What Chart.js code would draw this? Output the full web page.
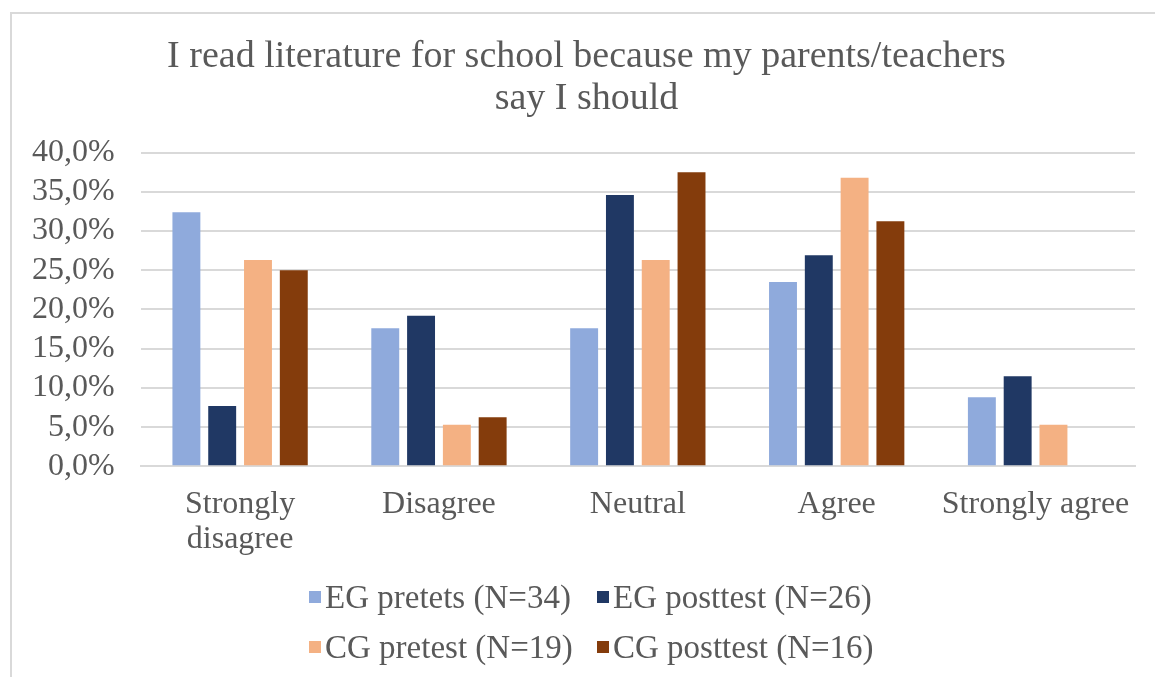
<!DOCTYPE html>
<html>
<head>
<meta charset="utf-8">
<script src="https://cdn.jsdelivr.net/npm/chart.js@4/dist/chart.umd.min.js"></script>
<style>
    body { margin: 0; background: #fff; }
    #frame {
        position: absolute; left: 10px; top: 12px; width: 1160px; height: 680px;
        border-left: 2px solid #d9d9d9; border-top: 2px solid #d9d9d9;
    }
    #wrap { position: absolute; left: 0; top: 0; width: 1155px; height: 580px; }
    #legend {
        position: absolute; left: 309px; top: 579px;
        font-family: 'Liberation Serif', 'Times New Roman', serif;
        font-size: 33px; color: #595959;
        display: grid; grid-template-columns: 288px 300px; row-gap: 14px;
    }
    .item { display: flex; align-items: center; height: 36px; white-space: nowrap; }
    .box { width: 12px; height: 12px; margin-right: 4px; }
</style>
</head>
<body>
<div id="frame"></div>
<div id="wrap"><canvas id="chart"></canvas></div>
<div id="legend"></div>
<script>
// Data (shares of respondents)
const categories = [["Strongly", "disagree"], "Disagree", "Neutral", "Agree", "Strongly agree"];
const egPretest = [0.324, 0.176, 0.176, 0.235, 0.088];
const egPosttest = [0.077, 0.192, 0.346, 0.269, 0.115];
const cgPretest = [0.263, 0.053, 0.263, 0.368, 0.053];
const cgPosttest = [0.25, 0.0625, 0.375, 0.3125, 0];
const seriesNames = ["EG pretets (N=34)", "EG posttest (N=26)", "CG pretest (N=19)", "CG posttest (N=16)"];
const colors = ["#8faadc", "#203864", "#f4b183", "#843c0c"];

const serif = "'Liberation Serif', 'Times New Roman', serif";
Chart.defaults.font.family = serif;
Chart.defaults.color = "#595959";

const values = [egPretest, egPosttest, cgPretest, cgPosttest];
const datasets = values.map((data, i) => ({
    label: seriesNames[i],
    data: data,
    backgroundColor: colors[i],
    barPercentage: 0.78,
    categoryPercentage: 0.72,
}));

// the original title sits a bit right of the canvas centre
const titleShift = {
    id: "titleShift",
    afterLayout(chart) {
        chart.titleBlock.left += 16;
        chart.titleBlock.right += 16;
    },
};

const ctx = document.getElementById("chart").getContext("2d");
new Chart(ctx, {
    type: "bar",
    data: { labels: categories, datasets: datasets },
    plugins: [titleShift],
    options: {
        responsive: true,
        maintainAspectRatio: false,
        animation: false,
        layout: { padding: { left: 6, right: 20, top: 0, bottom: 2 } },
        plugins: {
            legend: { display: false },
            tooltip: { enabled: false },
            title: {
                display: true,
                text: ["I read literature for school because my parents/teachers", "say I should"],
                font: { size: 38, weight: "normal", lineHeight: 1.1 },
                color: "#595959",
                padding: { top: 36, bottom: 33 },
            },
        },
        scales: {
            x: {
                grid: { display: false, drawTicks: false },
                border: { color: "#d9d9d9", width: 2 },
                ticks: { font: { size: 32, lineHeight: 1.12 }, padding: 20, maxRotation: 0, autoSkip: false },
            },
            y: {
                min: 0,
                max: 0.4,
                grid: { color: "#d9d9d9", lineWidth: 2, drawTicks: false },
                border: { display: false },
                ticks: {
                    stepSize: 0.05,
                    autoSkip: false,
                    padding: 26,
                    font: { size: 32 },
                    callback: (v) => (v * 100).toFixed(1).replace(".", ",") + "%",
                },
            },
        },
    },
});

// Legend in two rows, as in the original
const legend = document.getElementById("legend");
seriesNames.forEach((name, i) => {
    const item = document.createElement("div");
    item.className = "item";
    item.innerHTML = `<span class="box" style="background:${colors[i]}"></span>${name}`;
    legend.appendChild(item);
});
</script>
</body>
</html>
